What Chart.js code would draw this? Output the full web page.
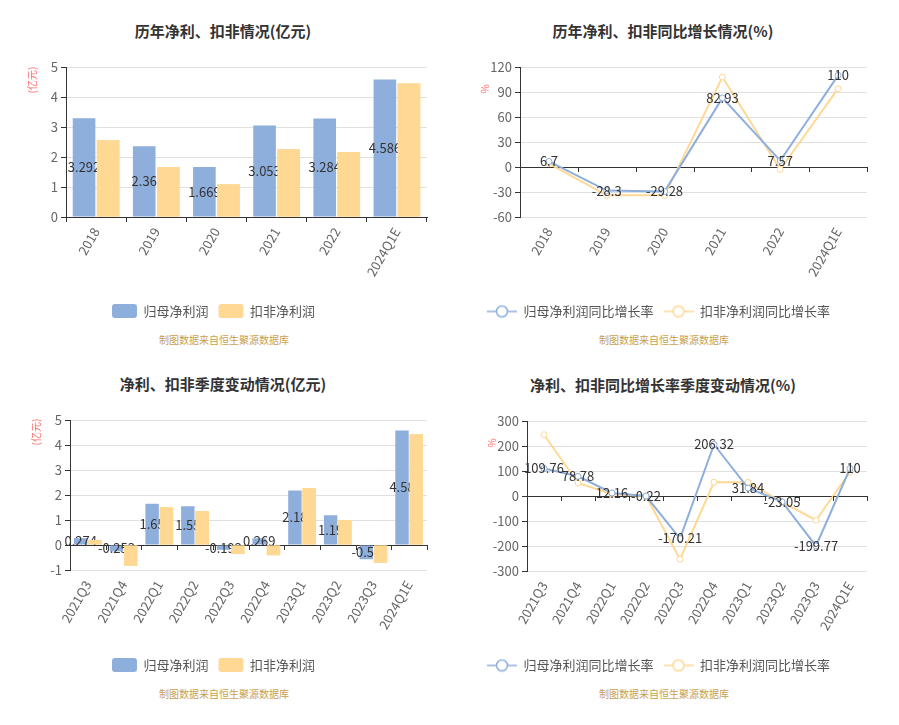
<!DOCTYPE html>
<html>
<head>
<meta charset="utf-8">
<script src="https://cdn.jsdelivr.net/npm/chart.js@4"></script>
<style>
  body { margin: 0; background: #fff; }
  #wrap { position: relative; width: 899px; height: 725px; overflow: hidden; font-family: "Noto Sans CJK SC", "Noto Sans", sans-serif; }
  canvas { position: absolute; }
  .title { position: absolute; width: 440px; text-align: center; font-weight: bold; font-size: 15px; color: #333; height: 20px; line-height: 20px; }
  .src { position: absolute; width: 440px; text-align: center; font-size: 10px; color: #c9a04c; height: 14px; line-height: 14px; }
</style>
</head>
<body>
<div id="wrap">
  <div class="title" style="left:3px;top:21px">历年净利、扣非情况(亿元)</div>
  <div class="title" style="left:443px;top:21px">历年净利、扣非同比增长情况(%)</div>
  <div class="title" style="left:3px;top:374px">净利、扣非季度变动情况(亿元)</div>
  <div class="title" style="left:443px;top:375px">净利、扣非同比增长率季度变动情况(%)</div>
  <div class="src" style="left:4px;top:333px">制图数据来自恒生聚源数据库</div>
  <div class="src" style="left:444px;top:333px">制图数据来自恒生聚源数据库</div>
  <div class="src" style="left:4px;top:687px">制图数据来自恒生聚源数据库</div>
  <div class="src" style="left:444px;top:687px">制图数据来自恒生聚源数据库</div>
  <canvas id="c1" width="450" height="360" style="left:0;top:0"></canvas>
  <canvas id="c2" width="449" height="360" style="left:450px;top:0"></canvas>
  <canvas id="c3" width="450" height="370" style="left:0;top:355px"></canvas>
  <canvas id="c4" width="449" height="370" style="left:450px;top:355px"></canvas>
</div>
<script>
// data
const annualCats = ['2018', '2019', '2020', '2021', '2022', '2024Q1E'];
const annualNet = [3.292, 2.36, 1.669, 3.053, 3.284, 4.586];
const annualDeducted = [2.56, 1.67, 1.09, 2.26, 2.17, 4.45];
const annualNetGrowth = [6.7, -28.3, -29.28, 82.93, 7.57, 110];
const annualDeductedGrowth = [4, -34, -34, 108, -3, 94];

const quarterCats = ['2021Q3', '2021Q4', '2022Q1', '2022Q2', '2022Q3', '2022Q4', '2023Q1', '2023Q2', '2023Q3', '2024Q1E'];
const quarterNet = [0.274, -0.253, 1.65, 1.55, -0.192, 0.269, 2.18, 1.19, -0.57, 4.58];
const quarterDeducted = [0.2, -0.83, 1.51, 1.36, -0.36, -0.41, 2.28, 1.0, -0.71, 4.43];
const quarterNetGrowth = [109.76, 78.78, 12.16, -0.22, -170.21, 206.32, 31.84, -23.05, -199.77, 110];
const quarterDeductedGrowth = [245, 52, 7, 0, -253, 55, 55, -24, -97, 96];

const BLUE = '#8eaedc';
const ORANGE = '#ffd894';

Chart.defaults.font.family = '"Noto Sans CJK SC", "Noto Sans", sans-serif';
Chart.defaults.font.size = 13;
Chart.defaults.color = '#666';
Chart.defaults.animation = false;

// value labels of the first series (bars: centred in bar, lines: centred on point)
const valueLabels = {
  id: 'valueLabels',
  drawFor(chart) {
    const meta = chart.getDatasetMeta(0);
    const values = chart.data.datasets[0].data;
    const ctx = chart.ctx;
    ctx.save();
    ctx.font = '13px "Noto Sans CJK SC", sans-serif';
    ctx.fillStyle = '#333';
    ctx.textAlign = 'center';
    ctx.textBaseline = 'middle';
    meta.data.forEach((el, i) => {
      const y = meta.type === 'bar' ? (el.y + el.base) / 2 : el.y;
      ctx.fillText(String(values[i]), el.x, y);
    });
    ctx.restore();
  },
  afterDatasetsDraw(chart) {
    this.drawFor(chart);
    // the second bar series sits over the labels, as in the original
    if (chart.getDatasetMeta(0).type === 'bar') {
      const a = chart.chartArea;
      chart.ctx.save();
      chart.ctx.beginPath();
      chart.ctx.rect(a.left, a.top, a.right - a.left, a.bottom - a.top);
      chart.ctx.clip();
      chart.getDatasetMeta(1).controller.draw();
      chart.ctx.restore();
    }
  }
};

// red axis unit name, written vertically beside the y axis
const unitLabel = {
  id: 'unitLabel',
  afterDraw(chart, args, opts) {
    if (!opts || !opts.text) return;
    const ctx = chart.ctx;
    const a = chart.chartArea;
    ctx.save();
    ctx.translate(a.left + opts.dx, a.top + opts.dy);
    ctx.rotate(-Math.PI / 2);
    ctx.font = '10px "Noto Sans CJK SC", sans-serif';
    ctx.fillStyle = '#ff6e6e';
    ctx.textAlign = 'center';
    ctx.textBaseline = 'middle';
    ctx.fillText(opts.text, 0, 0);
    ctx.restore();
  }
};

// tick marks under the zero line at category boundaries
const zeroTicks = {
  id: 'zeroTicks',
  afterDatasetsDraw(chart, args, opts) {
    if (!opts || !opts.enabled) return;
    const x = chart.scales.x, y = chart.scales.y;
    const y0 = y.getPixelForValue(0);
    const n = chart.data.labels.length;
    const w = (x.right - x.left) / n;
    const ctx = chart.ctx;
    ctx.save();
    ctx.strokeStyle = '#333';
    ctx.lineWidth = 1;
    ctx.beginPath();
    for (let i = 1; i <= n; i++) {
      const px = Math.round(x.left + i * w) + 0.5;
      ctx.moveTo(px, y0);
      ctx.lineTo(px, y0 + 5);
    }
    ctx.stroke();
    ctx.restore();
  }
};

Chart.register(valueLabels, unitLabel, zeroTicks);

function lineIcon(color) {
  const c = document.createElement('canvas');
  c.width = 30; c.height = 14;
  const g = c.getContext('2d');
  g.strokeStyle = color;
  g.lineWidth = 1.5;
  g.beginPath(); g.moveTo(0, 7); g.lineTo(30, 7); g.stroke();
  g.beginPath(); g.arc(15, 7, 5.5, 0, Math.PI * 2);
  g.fillStyle = '#fff'; g.fill(); g.stroke();
  return c;
}

function yAxis(min, max, step, width) {
  return {
    min, max,
    ticks: { stepSize: step, color: '#666', padding: 3 },
    grid: {
      color: c => (c.tick && c.tick.value === 0 ? '#333' : '#e0e0e0'),
      tickColor: '#333', tickLength: 5
    },
    border: { color: '#333' },
    afterFit: s => { s.width = width; }
  };
}

function xAxis(bottomAxis, height) {
  return {
    offset: true,
    grid: { offset: true, drawOnChartArea: false, drawTicks: bottomAxis, tickLength: 5, tickColor: '#333' },
    border: { display: bottomAxis, color: '#333' },
    ticks: { minRotation: 60, maxRotation: 60, autoSkip: false, color: '#666', padding: bottomAxis ? 3 : 8 },
    afterFit: s => { s.height = height; }
  };
}

function barLegend() {
  return {
    position: 'bottom',
    labels: { boxWidth: 25, boxHeight: 14, useBorderRadius: true, borderRadius: 3, color: '#555', padding: 10 }
  };
}

function lineLegend() {
  return {
    position: 'bottom',
    labels: {
      usePointStyle: true, pointStyleWidth: 30, color: '#555', padding: 10,
      generateLabels: chart => {
        const items = Chart.defaults.plugins.legend.labels.generateLabels(chart);
        items.forEach((it, i) => { it.pointStyle = lineIcon(i === 0 ? BLUE : ORANGE); });
        return items;
      }
    }
  };
}

function barChart(id, labels, a, b, yopt, pad, xH, unit, zero) {
  return new Chart(document.getElementById(id), {
    type: 'bar',
    data: {
      labels,
      datasets: [
        { label: '归母净利润', data: a, backgroundColor: BLUE, categoryPercentage: 0.8, barPercentage: 0.94 },
        { label: '扣非净利润', data: b, backgroundColor: ORANGE, categoryPercentage: 0.8, barPercentage: 0.94 }
      ]
    },
    options: {
      responsive: false,
      layout: { padding: pad },
      scales: { x: xAxis(!zero, xH), y: yopt },
      plugins: {
        legend: barLegend(),
        tooltip: { enabled: false },
        unitLabel: unit,
        zeroTicks: { enabled: zero }
      }
    }
  });
}

function lineChart(id, labels, a, b, yopt, pad, xH, unit) {
  const ds = (label, data, color) => ({
    label, data, borderColor: color, backgroundColor: color, borderWidth: 2,
    pointRadius: 3, pointBackgroundColor: '#fff', pointBorderColor: color, pointBorderWidth: 1, tension: 0
  });
  return new Chart(document.getElementById(id), {
    type: 'line',
    data: {
      labels,
      datasets: [
        ds('归母净利润同比增长率', a, BLUE),
        ds('扣非净利润同比增长率', b, ORANGE)
      ]
    },
    options: {
      responsive: false,
      layout: { padding: pad },
      scales: { x: xAxis(false, xH), y: yopt },
      plugins: {
        legend: lineLegend(),
        tooltip: { enabled: false },
        unitLabel: unit,
        zeroTicks: { enabled: true }
      }
    }
  });
}

barChart('c1', annualCats, annualNet, annualDeducted, yAxis(0, 5, 1, 66),
  { top: 67, right: 23, bottom: 32, left: 0 }, 77, { text: '(亿元)', dx: -34, dy: 13 }, false);

lineChart('c2', annualCats, annualNetGrowth, annualDeductedGrowth, yAxis(-60, 120, 30, 70),
  { top: 67, right: 32, bottom: 32, left: 0 }, 78, { text: '%', dx: -35, dy: 22 });

barChart('c3', quarterCats, quarterNet, quarterDeducted, yAxis(-1, 5, 1, 70),
  { top: 65, right: 23, bottom: 43, left: 0 }, 78, { text: '(亿元)', dx: -34, dy: 12 }, true);

lineChart('c4', quarterCats, quarterNetGrowth, quarterDeductedGrowth, yAxis(-300, 300, 100, 77),
  { top: 66, right: 32, bottom: 43, left: 0 }, 78, { text: '%', dx: -35, dy: 22 });
</script>
</body>
</html>
